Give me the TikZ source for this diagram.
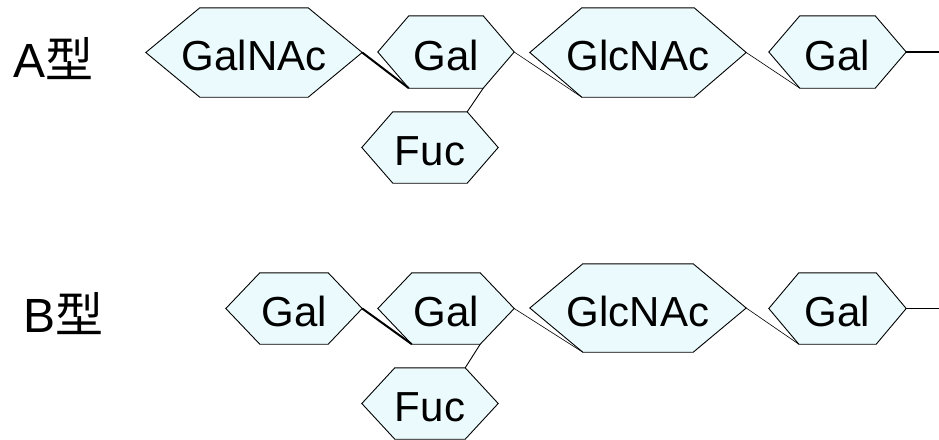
\documentclass[tikz,border=0pt]{standalone}
\usepackage{fontspec}
\setmainfont{Liberation Sans}
\newfontfamily\cjkfont{Noto Sans CJK JP}
\usetikzlibrary{backgrounds}
\definecolor{hexfill}{RGB}{235,251,253}
\newcommand\hexshape[2]{\filldraw[hexline] (#1.west) -- ([xshift=#2pt]#1.north west) -- ([xshift=-#2pt]#1.north east) -- (#1.east) -- ([xshift=-#2pt]#1.south east) -- ([xshift=#2pt]#1.south west) -- cycle;}
\tikzset{
  hexline/.style={draw=black, fill=hexfill, line width=0.9pt, line join=miter},
  hexnode/.style={draw=none, inner sep=0pt, text height=36pt, text depth=0pt, font=\fontsize{42}{50}\selectfont},
  bignode/.style={hexnode, minimum width=216pt, minimum height=89pt},
  smallnode/.style={hexnode, minimum width=136pt, minimum height=71pt},
  typelabel/.style={inner sep=0pt, anchor=west, font=\fontsize{48}{56}\selectfont},
  boldlink/.style={line width=2pt},
  thinlink/.style={line width=0.6pt},
  fuclink/.style={line width=0.9pt},
  endlink/.style={line width=1.6pt},
}
\begin{document}
\begin{tikzpicture}[x=1pt,y=-1pt]
\useasboundingbox (0,0) rectangle (939,439);
% labels
\node[typelabel] (labA) at (13,59) {A{\cjkfont 型}};
\node[typelabel] (labB) at (23,314) {B{\cjkfont 型}};
% row A
\node[bignode] (galnacA) at (254,52.5) {GalNAc};
\node[smallnode, minimum height=72pt] (galA1) at (446,52) {Gal};
\node[smallnode] (fucA) at (430,147.5) {Fuc};
\node[bignode] (glcA) at (638,52.5) {GlcNAc};
\node[smallnode, minimum width=137pt, minimum height=72pt] (galA2) at (837.5,52) {Gal};
\coordinate (endA) at (939,52);
% row B
\node[smallnode] (galB0) at (294,308.5) {Gal};
\node[smallnode] (galB1) at (446,308.5) {Gal};
\node[smallnode] (fucB) at (430,403.5) {Fuc};
\node[bignode, minimum height=88pt] (glcB) at (638,308) {GlcNAc};
\node[smallnode, minimum width=137pt] (galB2) at (837.5,308.5) {Gal};
\coordinate (endB) at (939,308.5);
% hexagons
\begin{scope}[on background layer]
\hexshape{galnacA}{54}
\hexshape{galA1}{31}
\hexshape{fucA}{31}
\hexshape{glcA}{52}
\hexshape{galA2}{31}
\hexshape{galB0}{34}
\hexshape{galB1}{34}
\hexshape{fucB}{33}
\hexshape{glcB}{53}
\hexshape{galB2}{30}
\end{scope}
% connectors A
\draw[boldlink] (galnacA.east) -- ([xshift=31pt]galA1.south west);
\draw[fuclink] ([xshift=-31pt]galA1.south east) -- ([xshift=-31pt]fucA.north east);
\draw[thinlink] (galA1.east) -- ([xshift=52pt]glcA.south west);
\draw[thinlink] (glcA.east) -- ([xshift=31pt]galA2.south west);
\draw[endlink] (galA2.east) -- (endA);
% connectors B
\draw[boldlink] (galB0.east) -- ([xshift=34pt]galB1.south west);
\draw[fuclink] ([xshift=-34pt]galB1.south east) -- ([xshift=-33pt]fucB.north east);
\draw[thinlink] (galB1.east) -- ([xshift=53pt]glcB.south west);
\draw[thinlink] (glcB.east) -- ([xshift=30pt]galB2.south west);
\draw[endlink] (galB2.east) -- (endB);
\end{tikzpicture}
\end{document}
